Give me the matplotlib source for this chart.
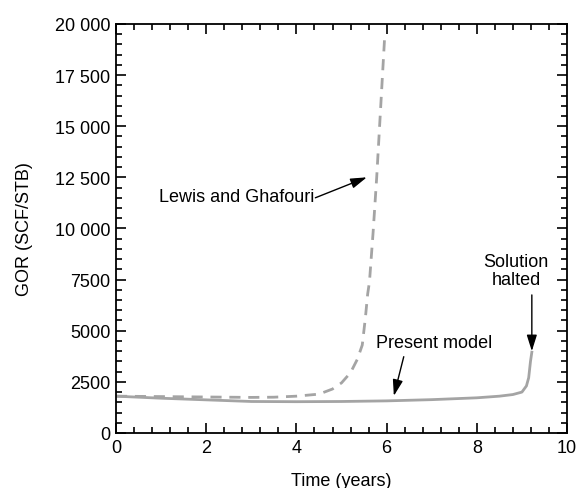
import matplotlib.pyplot as plt
from matplotlib.ticker import MultipleLocator

plt.rcParams['font.family'] = ['Liberation Sans', 'DejaVu Sans']

# present model (solid)
t_model = [0, 1, 2, 3, 4, 5, 6, 7, 8, 8.5, 8.8, 9.0, 9.1, 9.15, 9.19, 9.22]
gor_model = [1800, 1700, 1620, 1540, 1530, 1540, 1570, 1630, 1720, 1800,
             1880, 2000, 2300, 2700, 3500, 3950]

# Lewis and Ghafouri (dashed)
t_lg = [0, 1, 2, 3, 3.5, 4, 4.5, 4.8, 5.0, 5.2, 5.35, 5.46, 5.53, 5.58,
        5.62, 5.7, 5.78, 5.87, 5.96]
gor_lg = [1800, 1780, 1760, 1740, 1750, 1800, 1900, 2150, 2450, 2950, 3600,
          4300, 5650, 6800, 7400, 9800, 12500, 16000, 19500]

yticks = [0, 2500, 5000, 7500, 10000, 12500, 15000, 17500, 20000]
ytick_labels = ['0', '2500', '5000', '7500', '10 000', '12 500', '15 000',
                '17 500', '20 000']

fig = plt.figure(figsize=(5.86, 4.89), dpi=100)
ax = fig.add_axes([0.198, 0.1125, 0.7696, 0.8365])

ax.plot(t_lg, gor_lg, color='#a4a4a4', lw=2, linestyle=(0, (4, 2.8)))
ax.plot(t_model, gor_model, color='#a4a4a4', lw=2)

ax.set_xlim(0, 10)
ax.set_ylim(0, 20000)
ax.set_xticks([0, 2, 4, 6, 8, 10])
ax.xaxis.set_minor_locator(MultipleLocator(0.4))
ax.set_yticks(yticks)
ax.set_yticklabels(ytick_labels)
ax.yaxis.set_minor_locator(MultipleLocator(500))
ax.tick_params(which='both', direction='in', top=True, right=True,
               labelsize=13, width=1.2)
ax.tick_params(which='major', length=7, pad=4)
ax.tick_params(which='minor', length=4)
for s in ax.spines.values():
    s.set_linewidth(1.3)

ax.set_xlabel('Time (years)', fontsize=13, labelpad=12)
ax.set_ylabel('GOR (SCF/STB)', fontsize=13, labelpad=16)

arrow = dict(arrowstyle='-|>,head_length=0.7,head_width=0.22', color='black',
             lw=1, mutation_scale=14, shrinkA=0, shrinkB=0)
ax.annotate('', xy=(5.56, 12500), xytext=(4.42, 11500), arrowprops=arrow)
ax.text(4.40, 11550, 'Lewis and Ghafouri', ha='right', va='center',
        fontsize=13)
ax.annotate('', xy=(6.16, 1815), xytext=(6.38, 3730), arrowprops=arrow)
ax.text(5.76, 4400, 'Present model', ha='left', va='center', fontsize=13)
ax.annotate('', xy=(9.22, 4000), xytext=(9.22, 6750), arrowprops=arrow)
ax.text(8.87, 7950, 'Solution\nhalted', ha='center', va='center',
        fontsize=13, linespacing=1.1)

fig.savefig('out.png', dpi=100)
